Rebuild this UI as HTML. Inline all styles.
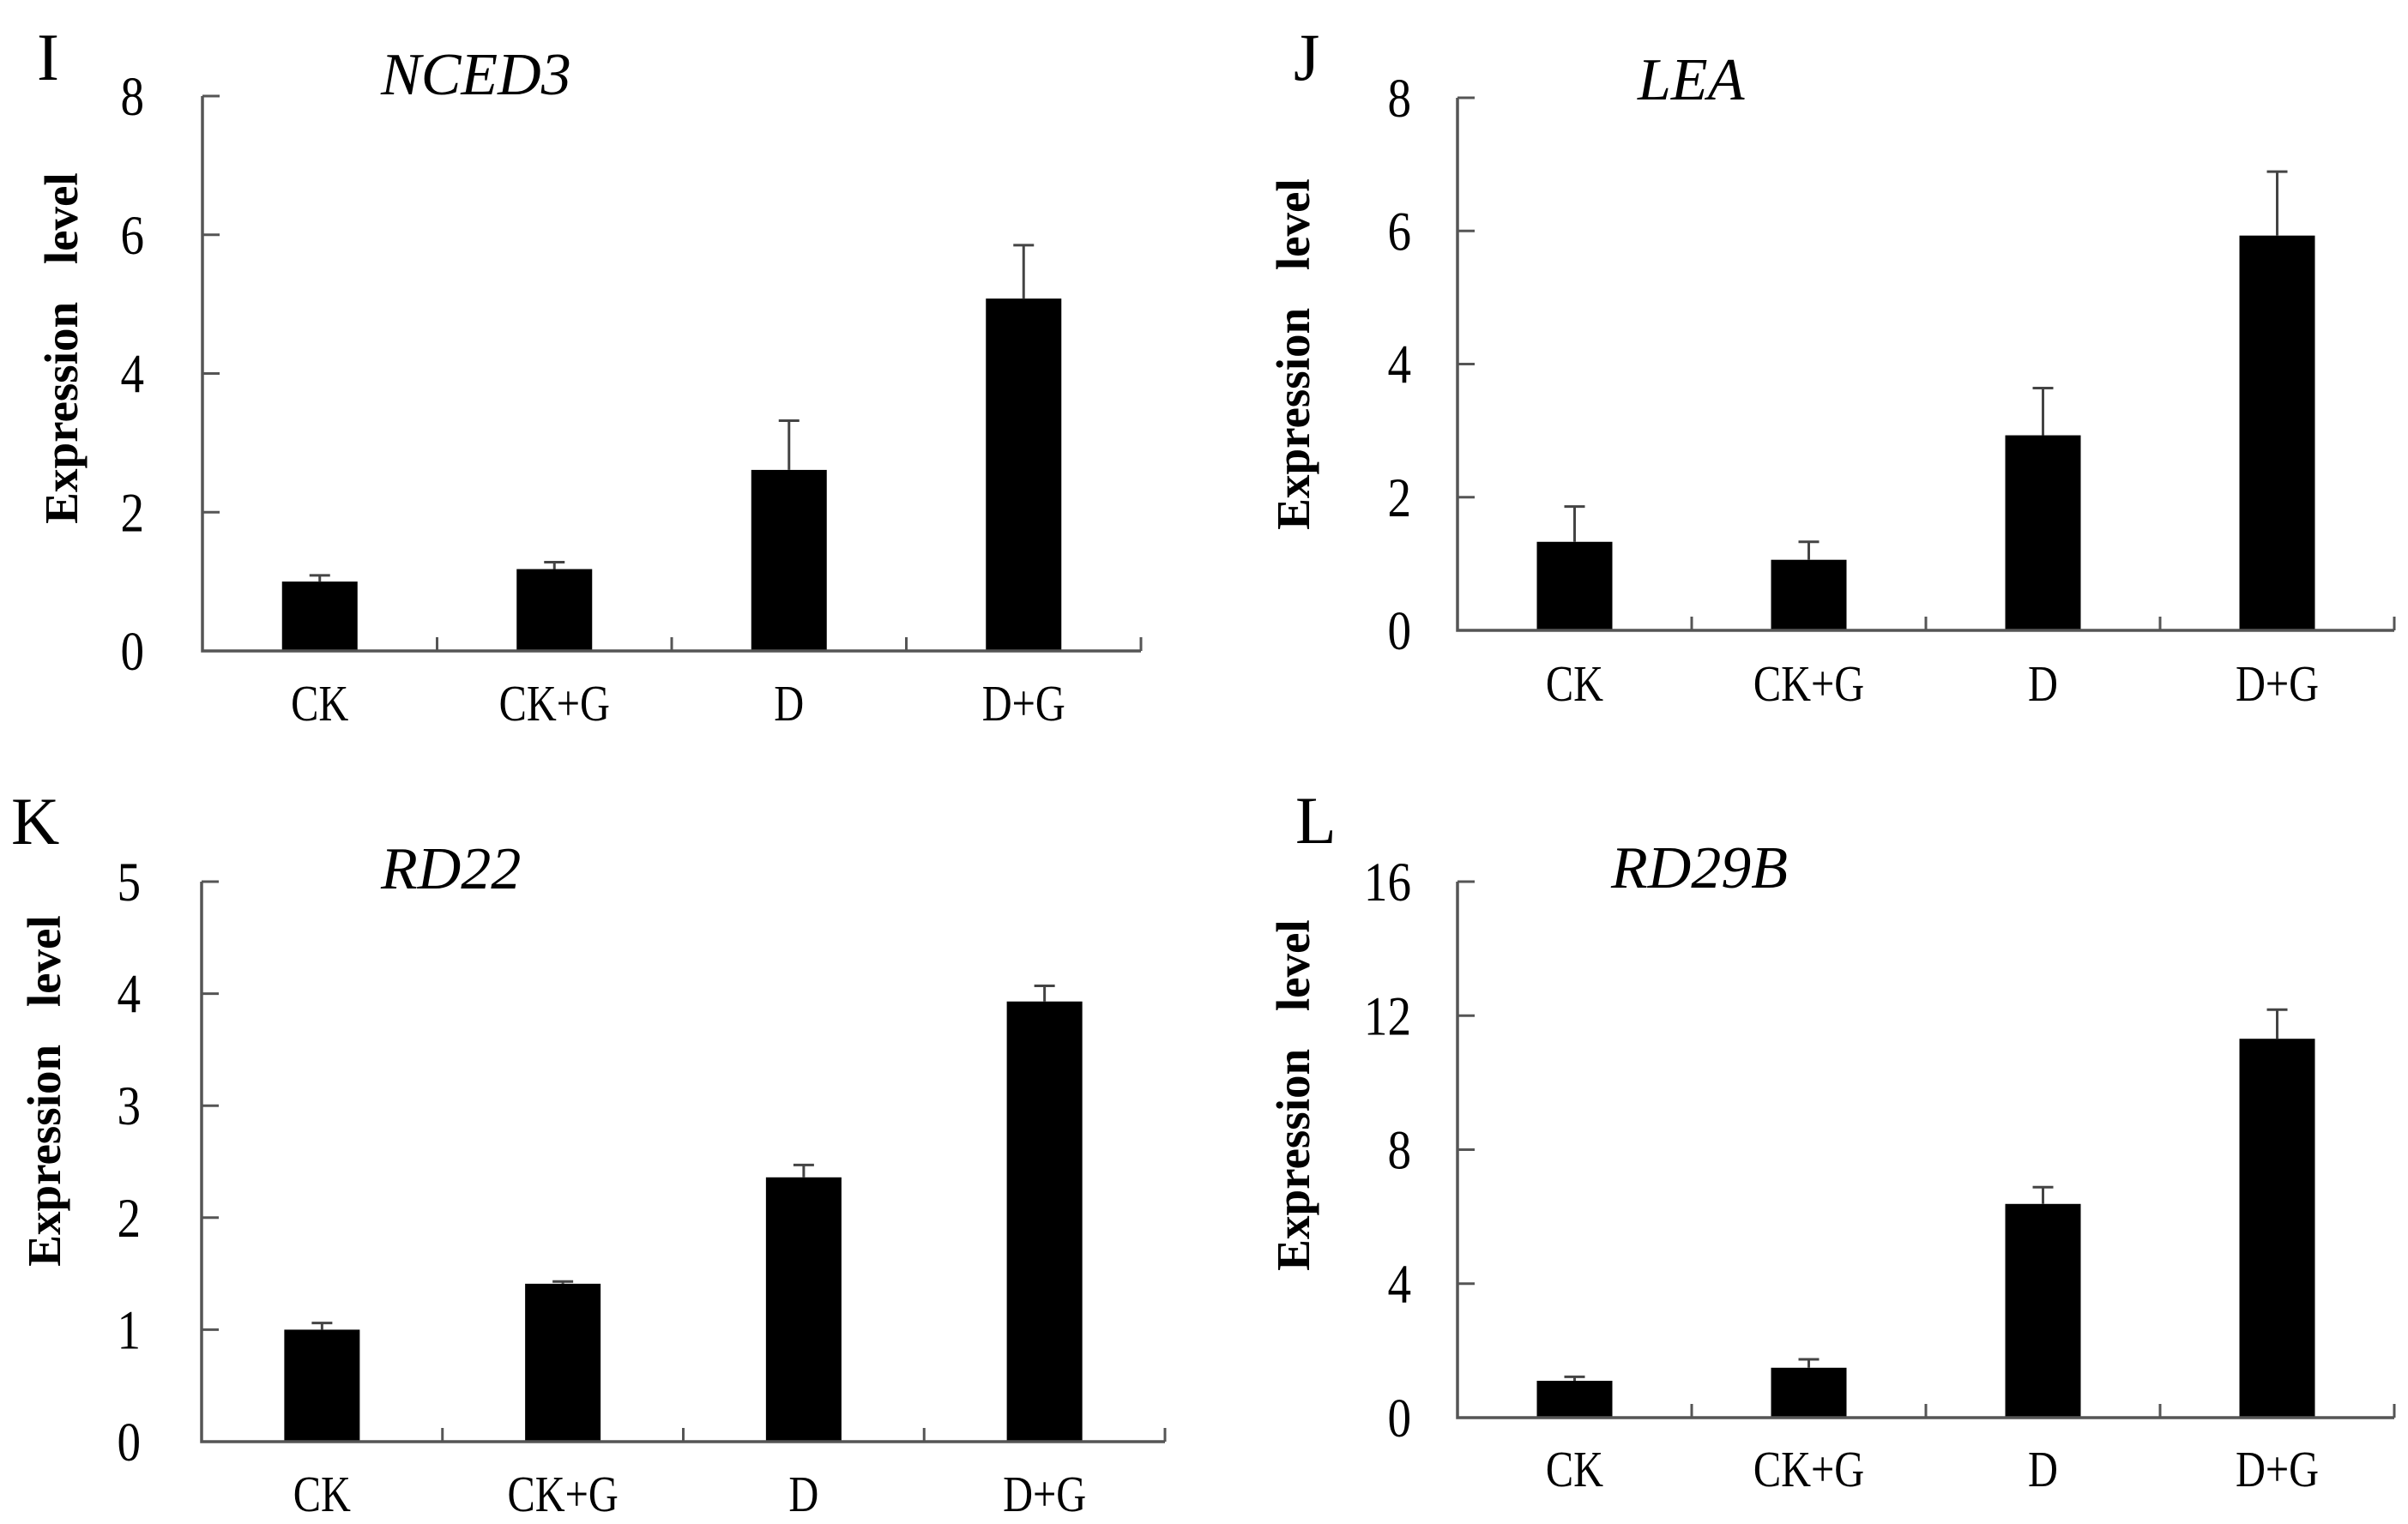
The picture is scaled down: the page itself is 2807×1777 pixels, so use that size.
<!DOCTYPE html>
<html><head><meta charset="utf-8"><style>
html,body{margin:0;padding:0;background:#fff;}
svg{display:block;font-family:"Liberation Serif",serif;}
</style></head><body>
<svg id="fig" width="2807" height="1777" viewBox="0 0 2807 1777"></svg>
<script>
const categories = ["CK","CK+G","D","D+G"];
const nced3Values = [1.0,1.18,2.61,5.08];
const nced3Errors = [0.09,0.10,0.71,0.77];
const leaValues = [1.33,1.06,2.93,5.93];
const leaErrors = [0.53,0.27,0.71,0.96];
const rd22Values = [1.0,1.41,2.36,3.93];
const rd22Errors = [0.06,0.02,0.11,0.14];
const rd29bValues = [1.10,1.49,6.38,11.31];
const rd29bErrors = [0.12,0.25,0.50,0.87];
const nced3Ticks = [0,2,4,6,8];
const leaTicks = [0,2,4,6,8];
const rd22Ticks = [0,1,2,3,4,5];
const rd29bTicks = [0,4,8,12,16];

const NS="http://www.w3.org/2000/svg";
const svg=document.getElementById('fig');
function mk(tag,attrs,parent){const e=document.createElementNS(NS,tag);for(const k in attrs)e.setAttribute(k,attrs[k]);(parent||svg).appendChild(e);return e;}

const panels=[
 {id:'nced3',letter:'I',title:'NCED3',vals:nced3Values,errs:nced3Errors,ticks:nced3Ticks,
  x0:236,x1:1330,yTop:112,yBot:759,lx:43,ly:93,tx:444,ty:110,tickR:168,ytx:72,yty:406,caty:838},
 {id:'lea',letter:'J',title:'LEA',vals:leaValues,errs:leaErrors,ticks:leaTicks,
  x0:1699,x1:2791,yTop:114,yBot:735,lx:1508,ly:93,tx:1909,ty:116,tickR:1645,ytx:1508,yty:413,caty:815},
 {id:'rd22',letter:'K',title:'RD22',vals:rd22Values,errs:rd22Errors,ticks:rd22Ticks,
  x0:235,x1:1358,yTop:1028,yBot:1681,lx:13,ly:984,tx:444,ty:1036,tickR:164,ytx:52,yty:1272,caty:1760},
 {id:'rd29b',letter:'L',title:'RD29B',vals:rd29bValues,errs:rd29bErrors,ticks:rd29bTicks,
  x0:1699,x1:2791,yTop:1028,yBot:1653,lx:1510,ly:983,tx:1878,ty:1035,tickR:1645,ytx:1508,yty:1277,caty:1731}
];

panels.forEach(p=>{
  const g=mk('g',{});
  
  
  const maxV=p.ticks[p.ticks.length-1];
  const yS=v=>p.yBot-(v/maxV)*(p.yBot-p.yTop);
  const gw=(p.x1-p.x0)/categories.length;
  const xC=i=>p.x0+gw*(i+0.5);
  const bw=88;
  const L=mk('text',{x:p.lx,y:p.ly,'font-size':78,fill:'#000'},g);L.textContent=p.letter;
  
  
  const T=mk('text',{x:p.tx,y:p.ty,'font-size':70,'font-style':'italic',fill:'#000'},g);T.textContent=p.title;
  
  
  const Y=mk('text',{transform:`translate(${p.ytx+18},${p.yty}) rotate(-90)`,'text-anchor':'middle','font-size':55,'font-weight':'bold','word-spacing':'30',fill:'#000'},g);
  Y.textContent='Expression level';
  
  
  p.vals.forEach((v,i)=>{
    const r=mk('rect',{x:xC(i)-bw/2,y:yS(v),width:bw,height:p.yBot-yS(v),fill:'#000'},g);
    
    
    const et=yS(v+p.errs[i]);
    const e=mk('path',{d:`M${xC(i)} ${yS(v)} V${et} M${xC(i)-12} ${et} H${xC(i)+12}`,stroke:'#444','stroke-width':3,fill:'none'},g);
    
    
    const c=mk('text',{transform:`translate(${xC(i)},${p.caty+2}) scale(0.93,1.14)`,'text-anchor':'middle','font-size':52,fill:'#000'},g);c.textContent=categories[i];
    
    
  });
  const ax=mk('path',{d:`M${p.x0} ${p.yTop} V${p.yBot} H${p.x1}`,stroke:'#555','stroke-width':3.5,fill:'none'},g);
  
  
  p.ticks.forEach(t=>{
    const y=yS(t);
    mk('line',{x1:p.x0,x2:p.x0+20,y1:y,y2:y,stroke:'#555','stroke-width':3},g);
    const tl=mk('text',{transform:`translate(${p.tickR},${y+22}) scale(0.95,1.12)`,'text-anchor':'end','font-size':58,fill:'#000'},g);tl.textContent=t;
    
    
  });
  for(let i=1;i<=categories.length;i++){
    const x=p.x0+gw*i;
    mk('line',{x1:x,x2:x,y1:p.yBot,y2:p.yBot-16,stroke:'#555','stroke-width':3},g);
  }
});
</script>
</body></html>
